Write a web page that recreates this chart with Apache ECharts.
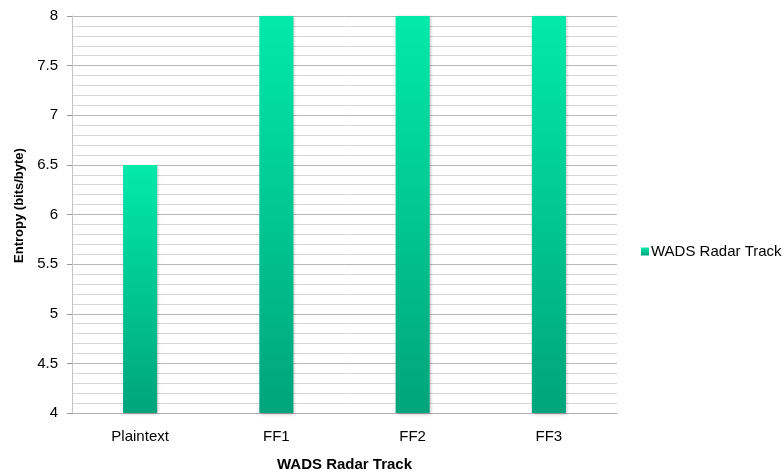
<!DOCTYPE html>
<html>
<head>
<meta charset="utf-8">
<script src="https://cdn.jsdelivr.net/npm/echarts@6/dist/echarts.min.js"></script>
<style>
html,body{margin:0;padding:0;background:#fff;}
#chart{width:784px;height:473px;}
</style>
</head>
<body>
<div id="chart"></div>
<script>
const categories = ['Plaintext', 'FF1', 'FF2', 'FF3'];
const seriesName = 'WADS Radar Track';
const entropyValues = [6.5, 8, 8, 8];
const yMin = 4, yMax = 8, yInterval = 0.5;

const chart = echarts.init(document.getElementById('chart'), null, {renderer: 'canvas'});
const font = '"Liberation Sans", Arial, sans-serif';
chart.setOption({
  animation: false,
  backgroundColor: '#ffffff',
  textStyle: {fontFamily: font},
  grid: {left: 72, right: 167, top: 16, bottom: 60, containLabel: false, outerBoundsMode: 'none'},
  legend: {
    data: [{name: seriesName, icon: 'rect'}],
    left: 636, top: 239,
    itemWidth: 8, itemHeight: 8, itemGap: 4,
    textStyle: {fontFamily: font, fontSize: 15, color: '#000', padding: [0,0,0,-3]}
  },
  xAxis: {
    type: 'category',
    data: categories,
    name: 'WADS Radar Track',
    nameLocation: 'middle',
    nameGap: 44,
    nameTextStyle: {fontFamily: font, fontSize: 15, fontWeight: 'bold', color: '#000'},
    axisLine: {show: true, lineStyle: {color: '#b0b0b0', width: 1}},
    axisTick: {show: false},
    axisLabel: {fontFamily: font, fontSize: 15, color: '#000', margin: 16}
  },
  yAxis: {
    type: 'value',
    min: yMin, max: yMax, interval: yInterval,
    name: 'Entropy (bits/byte)',
    nameLocation: 'middle',
    nameGap: 41,
    nameTextStyle: {fontFamily: font, fontSize: 13, fontWeight: 'bold', color: '#000', padding: [0,0,0,18]},
    axisLine: {show: true, lineStyle: {color: '#c4c4c4', width: 1}},
    axisTick: {show: true, length: 5, lineStyle: {color: '#999'}},
    axisLabel: {fontFamily: font, fontSize: 15, color: '#000', margin: 14},
    splitLine: {show: true, lineStyle: {color: '#b8b8b8', width: 1}},
    minorTick: {show: false, splitNumber: 5},
    minorSplitLine: {show: true, lineStyle: {color: '#d6d6d6', width: 1}}
  },
  series: [{
    name: seriesName,
    type: 'bar',
    data: entropyValues,
    barWidth: '25%',
    itemStyle: {
      color: new echarts.graphic.LinearGradient(0, 0, 0, 1, [
        {offset: 0, color: '#02eaaa'},
        {offset: 1, color: '#00a47b'}
      ]),
      shadowColor: 'rgba(0,0,0,0.3)',
      shadowBlur: 3,
      shadowOffsetX: 1,
      shadowOffsetY: 1
    }
  }]
});
</script>
</body>
</html>
